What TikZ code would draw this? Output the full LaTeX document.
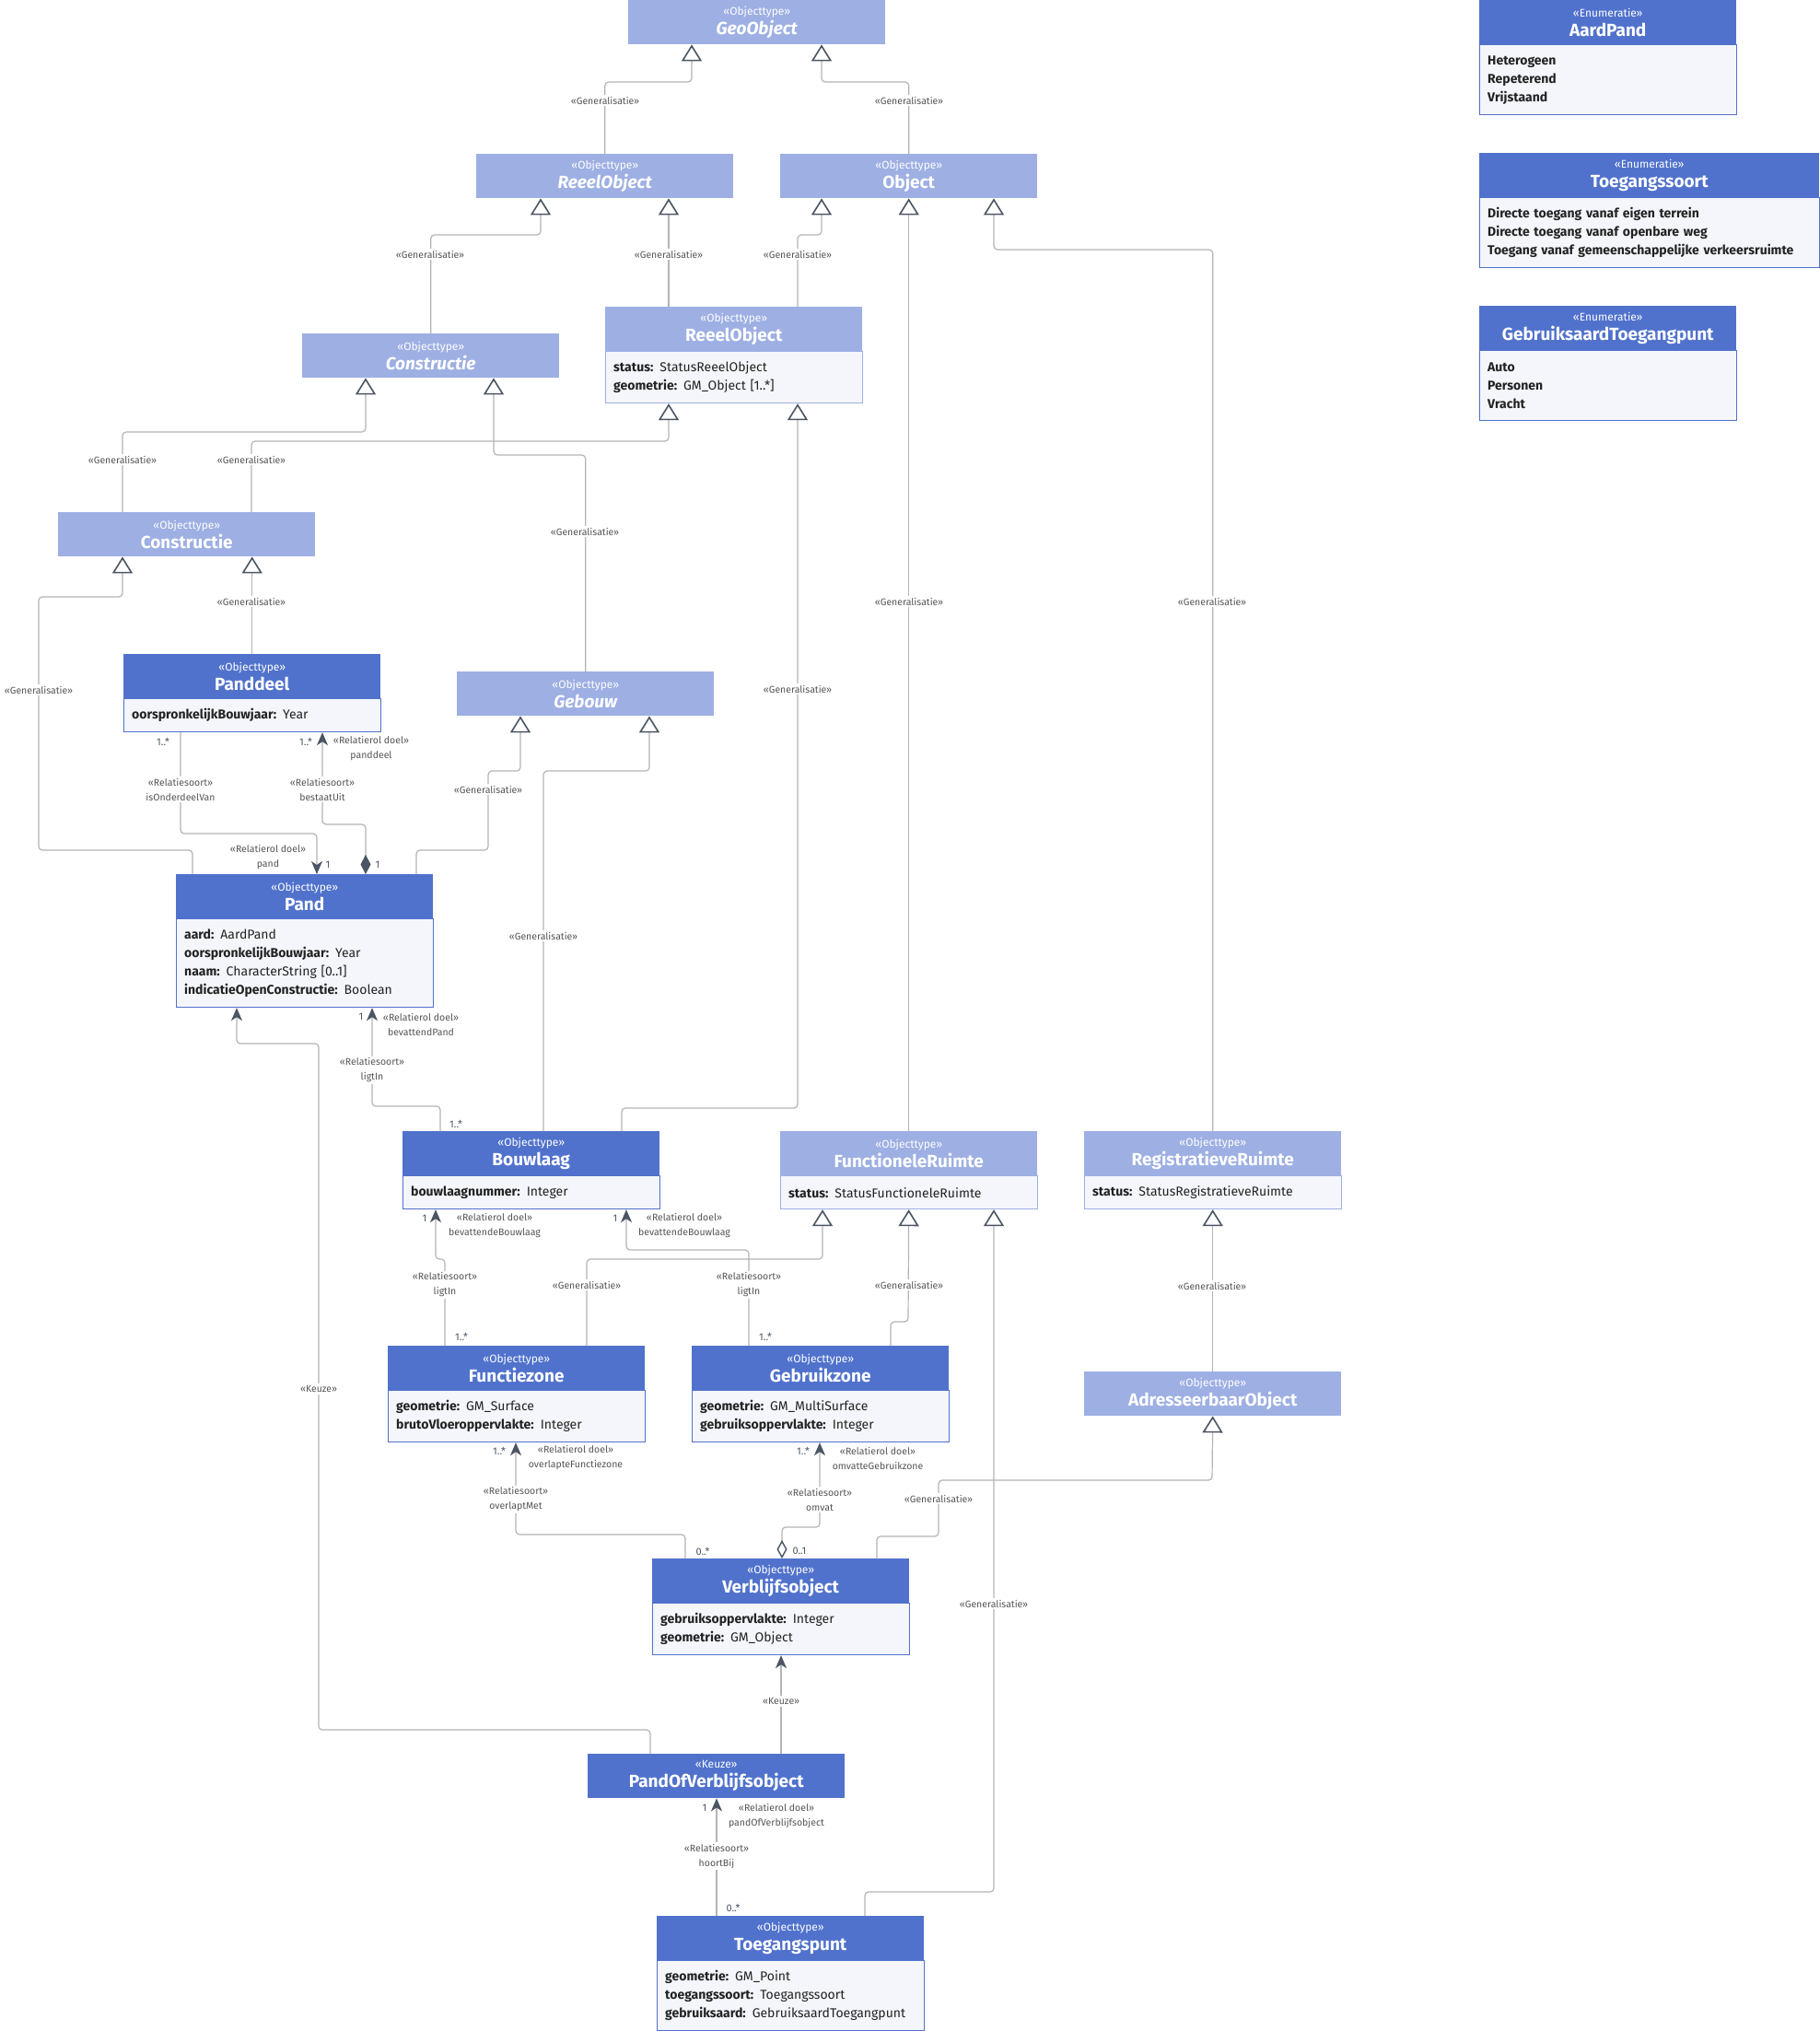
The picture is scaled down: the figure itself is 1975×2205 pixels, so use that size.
\documentclass[tikz,border=0pt]{standalone}
\usepackage{fontspec}
\setmainfont{Fira Sans}
\IfFontExistsTF{FiraSans-SemiBold.otf}
    {\newfontfamily\semibf{FiraSans-SemiBold.otf}}
    {\newcommand{\semibf}{\bfseries}}
\usetikzlibrary{arrows.meta,positioning}

\definecolor{umlblue}{HTML}{5072CC}
\definecolor{umllight}{HTML}{9DAFE3}
\definecolor{bodyfill}{HTML}{F4F6FB}
\definecolor{linegray}{HTML}{B4B4B4}
\definecolor{tipgray}{HTML}{4B5563}
\definecolor{lblgray}{HTML}{555555}
\definecolor{textdark}{HTML}{222222}

% stereotype line above the class name
\newcommand{\clshead}[2]{{\fontsize{12}{14}\selectfont\mdseries «#1»}\\#2}
% attribute name / enumeration literal
\newcommand{\an}[1]{{\semibf #1}}

\tikzset{
    cls/.style={anchor=north west, minimum width=279pt, minimum height=48pt, inner sep=0pt,
        fill=umlblue, text=white, align=center, font=\fontsize{19}{21}\selectfont\bfseries},
    abscls/.style={cls, fill=umllight},
    body/.style={below=0pt of #1, minimum width=279pt, text width=261pt, inner xsep=9pt, inner ysep=0pt,
        fill=bodyfill, draw=umlblue, line width=0.8pt, align=left, text=textdark,
        font=\fontsize{14}{20}\selectfont},
    absbody/.style={body=#1, draw=umllight},
    conn/.style={draw=linegray, line width=1.2pt, rounded corners=4pt},
    gen/.style={conn, -{Triangle[length=18pt, width=22pt, fill=white, color=tipgray, line width=1.6pt]}},
    assoc/.style={conn, -{Stealth[length=14pt, width=12pt, inset=4pt, color=tipgray]}},
    comp/.style={conn, {Diamond[length=21pt, width=11pt, color=tipgray]}-{Stealth[length=14pt, width=12pt, inset=4pt, color=tipgray]}},
    aggr/.style={conn, {Diamond[length=20pt, width=11pt, fill=white, color=tipgray, line width=1.4pt]}-{Stealth[length=14pt, width=12pt, inset=4pt, color=tipgray]}},
    glbl/.style={fill=white, inner sep=2pt, text=lblgray, align=center, font=\fontsize{10.5}{16}\selectfont},
    rlbl/.style={glbl, fill=none},
    mult/.style={inner sep=0pt, text=tipgray, font=\fontsize{11}{13}\selectfont}
}

\begin{document}
\begin{tikzpicture}[x=1pt, y=-1pt]
    \useasboundingbox[fill=white] (0,0) rectangle (1975,2205);

    % enumerations
    \node[cls] (aard) at (1606,0) {\clshead{Enumeratie}{AardPand}};
    \node[body=aard, minimum height=76pt] (aardB) {\an{Heterogeen}\\\an{Repeterend}\\\an{Vrijstaand}};
    \node[cls, minimum width=369pt] (tsrt) at (1606,166) {\clshead{Enumeratie}{Toegangssoort}};
    \node[body=tsrt, minimum width=369pt, text width=351pt, minimum height=76pt] (tsrtB)
        {\an{Directe toegang vanaf eigen terrein}\\\an{Directe toegang vanaf openbare weg}\\\an{Toegang vanaf gemeenschappelijke verkeersruimte}};
    \node[cls] (gatp) at (1606,332) {\clshead{Enumeratie}{GebruiksaardToegangpunt}};
    \node[body=gatp, minimum height=76pt] (gatpB) {\an{Auto}\\\an{Personen}\\\an{Vracht}};

    % object types
    \node[abscls] (geo) at (682,0) {\clshead{Objecttype}{\itshape GeoObject}};
    \node[abscls] (reA) at (517,167) {\clshead{Objecttype}{\itshape ReeelObject}};
    \node[abscls] (obj) at (847,167) {\clshead{Objecttype}{Object}};
    \node[abscls] (re) at (657,333) {\clshead{Objecttype}{ReeelObject}};
    \node[absbody=re, minimum height=56pt] (reB) {\an{status:} StatusReeelObject\\\an{geometrie:} GM\_Object [1..*]};
    \node[abscls] (conA) at (328,362) {\clshead{Objecttype}{\itshape Constructie}};
    \node[abscls] (con) at (63,556) {\clshead{Objecttype}{Constructie}};
    \node[cls] (pdl) at (134,710) {\clshead{Objecttype}{Panddeel}};
    \node[body=pdl, minimum height=36pt] (pdlB) {\an{oorspronkelijkBouwjaar:} Year};
    \node[abscls] (geb) at (496,729) {\clshead{Objecttype}{\itshape Gebouw}};
    \node[cls] (pand) at (191,949) {\clshead{Objecttype}{Pand}};
    \node[body=pand, minimum height=96pt] (pandB) {\an{aard:} AardPand\\\an{oorspronkelijkBouwjaar:} Year\\\an{naam:} CharacterString [0..1]\\\an{indicatieOpenConstructie:} Boolean};
    \node[cls] (blg) at (437,1228) {\clshead{Objecttype}{Bouwlaag}};
    \node[body=blg, minimum height=36pt] (blgB) {\an{bouwlaagnummer:} Integer};
    \node[abscls] (fru) at (847,1228) {\clshead{Objecttype}{FunctioneleRuimte}};
    \node[absbody=fru, minimum height=36pt] (fruB) {\an{status:} StatusFunctioneleRuimte};
    \node[abscls] (rru) at (1177,1228) {\clshead{Objecttype}{RegistratieveRuimte}};
    \node[absbody=rru, minimum height=36pt] (rruB) {\an{status:} StatusRegistratieveRuimte};
    \node[cls] (fz) at (421,1461) {\clshead{Objecttype}{Functiezone}};
    \node[body=fz, minimum height=56pt] (fzB) {\an{geometrie:} GM\_Surface\\\an{brutoVloeroppervlakte:} Integer};
    \node[cls] (gz) at (751,1461) {\clshead{Objecttype}{Gebruikzone}};
    \node[body=gz, minimum height=56pt] (gzB) {\an{geometrie:} GM\_MultiSurface\\\an{gebruiksoppervlakte:} Integer};
    \node[abscls] (ado) at (1177,1489) {\clshead{Objecttype}{AdresseerbaarObject}};
    \node[cls] (vbo) at (708,1692) {\clshead{Objecttype}{Verblijfsobject}};
    \node[body=vbo, minimum height=56pt] (vboB) {\an{gebruiksoppervlakte:} Integer\\\an{geometrie:} GM\_Object};
    \node[cls] (povb) at (638,1904) {\clshead{Keuze}{PandOfVerblijfsobject}};
    \node[cls, minimum width=290pt] (tgp) at (713,2080) {\clshead{Objecttype}{Toegangspunt}};
    \node[body=tgp, minimum width=290pt, text width=272pt, minimum height=76pt] (tgpB) {\an{geometrie:} GM\_Point\\\an{toegangssoort:} Toegangssoort\\\an{gebruiksaard:} GebruiksaardToegangpunt};

    % generalisations
    \draw[gen] (reA.north) |- (751,89) -- (geo.south -| 751,0);
    \draw[gen] (obj.north) |- (892,89) -- (geo.south -| 892,0);
    \draw[gen] (conA.north) |- (587,255) -- (reA.south -| 587,0);
    \draw[gen] (re.north -| 726,0) -- (reA.south -| 726,0);
    \draw[gen] (re.north -| 866,0) |- (892,255) -- (obj.south -| 892,0);
    \draw[gen] (con.north -| 133,0) |- (397,469) -- (conA.south -| 397,0);
    \draw[gen] (con.north -| 273,0) |- (726,479) -- (reB.south -| 726,0);
    \draw[gen] (pdl.north) -- (con.south -| pdl.north);
    \draw[gen] (pand.north -| 209,0) |- (42,923) |- (133,648) -- (con.south -| 133,0);
    \draw[gen] (geb.north) |- (536,494) -- (conA.south -| 536,0);
    \draw[gen] (pand.north -| 452,0) |- (530,923) |- (565,837) -- (geb.south -| 565,0);
    \draw[gen] (blg.north -| 590,0) |- (705,837) -- (geb.south -| 705,0);
    \draw[gen] (blg.north -| 675,0) |- (866,1203) -- (reB.south -| 866,0);
    \draw[gen] (fru.north) -- (obj.south);
    \draw[gen] (rru.north) |- (1079,271) -- (obj.south -| 1079,0);
    \draw[gen] (fz.north -| 637,0) |- (893,1367) -- (fruB.south -| 893,0);
    \draw[gen] (gz.north -| 967,0) |- (986,1435) -- (fruB.south);
    \draw[gen] (ado.north) -- (rruB.south);
    \draw[gen] (vbo.north -| 952,0) |- (1019,1668) |- (1316,1607) -- (ado.south);
    \draw[gen] (tgp.north -| 939,0) |- (1079,2054) -- (fruB.south -| 1079,0);

    % relations
    \draw[assoc] (pdlB.south -| 196,0) |- (344,905) -- (pand.north -| 344,0);
    \draw[comp] (pand.north -| 397,0) |- (350,895) -- (pdlB.south -| 350,0);
    \draw[assoc] (blg.north -| 478,0) |- (404,1201) -- (pandB.south -| 404,0);
    \draw[assoc] (fz.north -| 483,0) |- (473,1367) -- (blgB.south -| 473,0);
    \draw[assoc] (gz.north -| 813,0) |- (680,1357) -- (blgB.south -| 680,0);
    \draw[assoc] (vbo.north -| 744,0) |- (560,1666) -- (fzB.south -| 560,0);
    \draw[aggr] (vbo.north -| 849,0) |- (890,1658) -- (gzB.south -| 890,0);
    \draw[assoc] (tgp.north -| 778,0) -- (povb.south -| 778,0);

    % choice
    \draw[assoc] (povb.north -| 706,0) |- (346,1878) |- (257,1133) -- (pandB.south -| 257,0);
    \draw[assoc] (povb.north -| 848,0) -- (vboB.south -| 848,0);

    % generalisation labels
    \node[glbl] (gl1) at (657,109) {«Generalisatie»};
    \node[glbl] (gl2) at (987,109) {«Generalisatie»};
    \node[glbl] (gl3) at (467,276) {«Generalisatie»};
    \node[glbl] (gl4) at (726,276) {«Generalisatie»};
    \node[glbl] (gl5) at (866,276) {«Generalisatie»};
    \node[glbl] (gl6) at (133,499) {«Generalisatie»};
    \node[glbl] (gl7) at (273,499) {«Generalisatie»};
    \node[glbl] (gl8) at (273,653) {«Generalisatie»};
    \node[glbl] (gl9) at (42,749) {«Generalisatie»};
    \node[glbl] (gl10) at (635,577) {«Generalisatie»};
    \node[glbl] (gl11) at (530,857) {«Generalisatie»};
    \node[glbl] (gl12) at (590,1016) {«Generalisatie»};
    \node[glbl] (gl13) at (866,748) {«Generalisatie»};
    \node[glbl] (gl14) at (987,653) {«Generalisatie»};
    \node[glbl] (gl15) at (1316,653) {«Generalisatie»};
    \node[glbl] (gl16) at (637,1395) {«Generalisatie»};
    \node[glbl] (gl17) at (987,1395) {«Generalisatie»};
    \node[glbl] (gl18) at (1316,1396) {«Generalisatie»};
    \node[glbl] (gl19) at (1019,1627) {«Generalisatie»};
    \node[glbl] (gl20) at (1079,1741) {«Generalisatie»};
    \node[glbl] (kz1) at (346,1508) {«Keuze»};
    \node[glbl] (kz2) at (848,1847) {«Keuze»};

    % relation labels
    \node[glbl] (rs1) at (196,857) {«Relatiesoort»\\isOnderdeelVan};
    \node[glbl] (rs2) at (350,857) {«Relatiesoort»\\bestaatUit};
    \node[glbl] (rs3) at (404,1162) {«Relatiesoort»\\ligtIn};
    \node[glbl] (rs4) at (483,1395) {«Relatiesoort»\\ligtIn};
    \node[glbl] (rs5) at (813,1395) {«Relatiesoort»\\ligtIn};
    \node[glbl] (rs6) at (560,1628) {«Relatiesoort»\\overlaptMet};
    \node[glbl] (rs7) at (890,1628) {«Relatiesoort»\\omvat};
    \node[glbl] (rs8) at (778,2015) {«Relatiesoort»\\hoortBij};
    \node[rlbl] (rd1) at (291,931) {«Relatierol doel»\\pand};
    \node[rlbl] (rd2) at (403,813) {«Relatierol doel»\\panddeel};
    \node[rlbl] (rd3) at (457,1112) {«Relatierol doel»\\bevattendPand};
    \node[rlbl] (rd4) at (537,1331) {«Relatierol doel»\\bevattendeBouwlaag};
    \node[rlbl] (rd5) at (743,1331) {«Relatierol doel»\\bevattendeBouwlaag};
    \node[rlbl] (rd6) at (625,1583) {«Relatierol doel»\\overlapteFunctiezone};
    \node[rlbl] (rd7) at (953,1583) {«Relatierol doel»\\omvatteGebruikzone};
    \node[rlbl] (rd8) at (843,1971) {«Relatierol doel»\\pandOfVerblijfsobject};

    % multiplicities
    \node[mult] (m1) at (177,805) {1..*};
    \node[mult] (m2) at (356,939) {1};
    \node[mult] (m3) at (332,805) {1..*};
    \node[mult] (m4) at (410,939) {1};
    \node[mult] (m5) at (392,1104) {1};
    \node[mult] (m6) at (495,1220) {1..*};
    \node[mult] (m7) at (461,1323) {1};
    \node[mult] (m8) at (501,1451) {1..*};
    \node[mult] (m9) at (668,1323) {1};
    \node[mult] (m10) at (831,1451) {1..*};
    \node[mult] (m11) at (542,1575) {1..*};
    \node[mult] (m12) at (763,1684) {0..*};
    \node[mult] (m13) at (872,1575) {1..*};
    \node[mult] (m14) at (868,1684) {0..1};
    \node[mult] (m15) at (765,1963) {1};
    \node[mult] (m16) at (796,2071) {0..*};
\end{tikzpicture}
\end{document}
